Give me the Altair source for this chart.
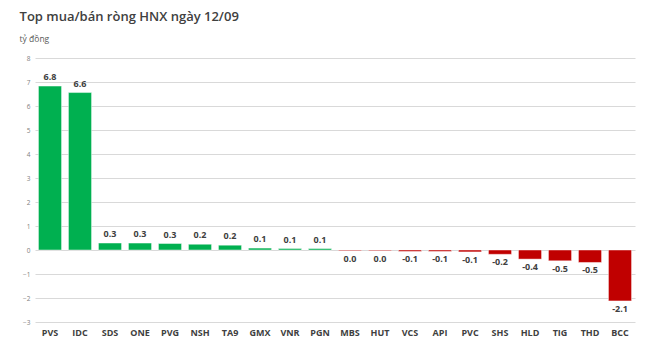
import altair as alt
import pandas as pd

tickers = ["PVS", "IDC", "SDS", "ONE", "PVG", "NSH", "TA9", "GMX", "VNR", "PGN",
           "MBS", "HUT", "VCS", "API", "PVC", "SHS", "HLD", "TIG", "THD", "BCC"]
values = [6.83, 6.56, 0.29, 0.29, 0.27, 0.24, 0.20, 0.08, 0.06, 0.06,
          -0.03, -0.03, -0.06, -0.06, -0.08, -0.18, -0.38, -0.45, -0.52, -2.12]
ytick_values = [-3, -2, -1, 0, 1, 2, 3, 4, 5, 6, 7, 8]

def fmt(v):
    s = f"{v:.1f}"
    return "0.0" if s == "-0.0" else s

df = pd.DataFrame({"ticker": tickers, "value": values})
df["label"] = [fmt(v) for v in values]
df["sign"] = ["pos" if v >= 0 else "neg" for v in values]

FONT = "Open Sans"

x = alt.X("ticker:N", sort=tickers, title=None,
          scale=alt.Scale(paddingInner=0.23, paddingOuter=0.115),
          axis=alt.Axis(labelAngle=0, labelFontWeight="bold", labelFontSize=9,
                        labelColor="#404040", labelFont=FONT, domain=False, ticks=False,
                        grid=False, labelPadding=6))
y = alt.Y("value:Q", title=None,
          scale=alt.Scale(domain=[-3, 8], nice=False, zero=False),
          axis=alt.Axis(values=ytick_values, labelFontSize=6.5, labelColor="#808080",
                        labelFont=FONT, domain=False, ticks=False, labelPadding=5,
                        labelOverlap=False, labelFlush=False,
                        gridColor="#d9d9d9", gridWidth=1))

base = alt.Chart(df).encode(x=x, y=y)

bars = base.mark_bar(stroke="white", strokeOpacity=0.45, strokeWidth=1).encode(
    color=alt.Color("sign:N", scale=alt.Scale(domain=["pos", "neg"], range=["#00b050", "#c00000"]), legend=None),
)

pos_text = base.transform_filter("datum.value >= 0").mark_text(
    baseline="bottom", dy=-4, fontSize=9, fontWeight="bold", color="#404040", font=FONT
).encode(text="label:N")

neg_text = base.transform_filter("datum.value < 0").mark_text(
    baseline="top", dy=4, fontSize=9, fontWeight="bold", color="#404040", font=FONT
).encode(text="label:N")

chart = alt.layer(bars, pos_text, neg_text).properties(
    width=600, height=264,
    autosize=alt.AutoSizeParams(type="none"),
    padding={"left": 35, "top": 58, "right": 15, "bottom": 31},
    view=alt.ViewBackground(stroke="transparent", strokeWidth=0, fill="white"),
    title=alt.TitleParams(
        text="Top mua/bán ròng HNX ngày 12/09",
        subtitle="tỷ đồng",
        anchor="start", dx=-3, offset=12,
        font=FONT, fontSize=13, fontWeight=600, color="#404040",
        subtitleFont=FONT, subtitleFontSize=8.5, subtitleColor="#595959",
        subtitlePadding=11,
    ),
).configure_view(stroke="transparent", strokeWidth=0).configure(background="white")

chart.save("out.html", embed_options={"renderer": "svg", "actions": False})
